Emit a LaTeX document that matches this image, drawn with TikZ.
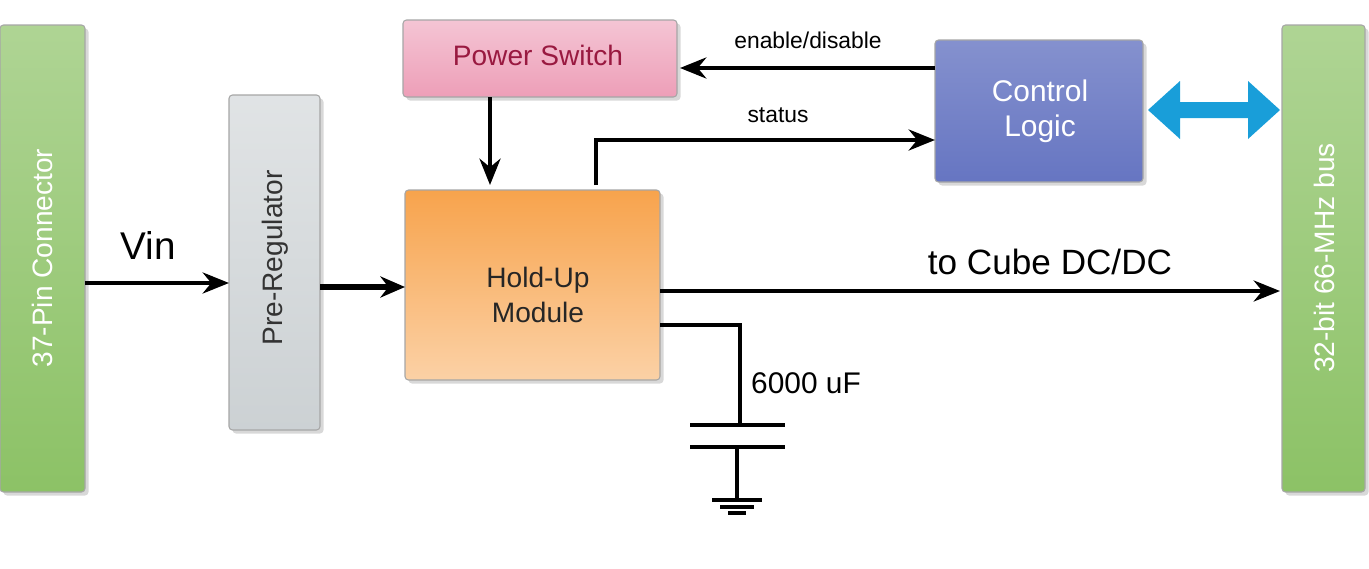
\documentclass[tikz,border=0pt]{standalone}
\usepackage{fontspec}
\setmainfont{Liberation Sans}
\usetikzlibrary{arrows.meta,shadows}
\definecolor{barfill}{rgb}{0.55,0.76,0.40}
\definecolor{pinkfill}{rgb}{0.93,0.62,0.72}
\definecolor{pinktext}{rgb}{0.60,0.10,0.25}
\definecolor{bluefill}{rgb}{0.40,0.46,0.76}
\definecolor{orangefill}{rgb}{0.97,0.64,0.30}
\definecolor{grayfill}{rgb}{0.80,0.82,0.83}
\definecolor{busarrow}{rgb}{0.10,0.62,0.85}
\tikzset{
  blk/.style={draw=black!35, line width=0.6pt, rounded corners=2pt, drop shadow={shadow xshift=2pt, shadow yshift=-2pt, fill=black!30}},
  conn/.style={line width=2.2pt, -{Stealth[length=15pt,width=12pt]}},
}
\begin{document}
\begin{tikzpicture}[x=0.02cm,y=-0.02cm]
\useasboundingbox (0,0) rectangle (1369,568);
% blocks
\draw[blk, top color=barfill!70, bottom color=barfill] (0,25) rectangle (85,492);
\node[white, rotate=90, font=\fontsize{16}{18}\selectfont] (pin) at (42,258) {37-Pin Connector};
\draw[blk, top color=grayfill!60, bottom color=grayfill] (229,95) rectangle (320,430);
\node[black!80, rotate=90, font=\fontsize{16}{18}\selectfont] (pre) at (275,258) {Pre-Regulator};
\draw[blk, top color=orangefill, bottom color=orangefill!50] (405,190) rectangle (660,380);
\node[black!85, align=center, font=\fontsize{16}{20}\selectfont] (hold) at (538,295) {Hold-Up\\Module};
\draw[blk, top color=pinkfill!60, bottom color=pinkfill] (403,20) rectangle (677,97);
\node[pinktext, font=\fontsize{16}{18}\selectfont] (psw) at (538,55) {Power Switch};
\draw[blk, top color=bluefill!80, bottom color=bluefill] (935,40) rectangle (1143,182);
\node[white, align=center, font=\fontsize{17}{20}\selectfont] (ctl) at (1040,111) {Control\\Logic};
\draw[blk, top color=barfill!70, bottom color=barfill] (1282,25) rectangle (1365,492);
\node[white, rotate=90, font=\fontsize{16}{18}\selectfont] (bus) at (1324,258) {32-bit 66-MHz bus};
% named ends
\coordinate (vin0) at (85,283);
\coordinate (vin1) at (229,283);
\coordinate (pr0) at (320,287);
\coordinate (pr1) at (405,287);
\coordinate (ps0) at (490,97);
\coordinate (ps1) at (490,185);
\coordinate (cl0) at (935,68);
\coordinate (cl1) at (680,68);
\coordinate (st0) at (596,185);
\coordinate (st1) at (935,140);
\coordinate (out0) at (660,291);
\coordinate (out1) at (1280,291);
\coordinate (cap0) at (660,325);
% connectors
\draw[conn] (vin0) -- (vin1);
\node[font=\fontsize{22}{26}\selectfont] (vinl) at (148,245) {Vin};
\draw[conn, line width=3.6pt, -{Stealth[length=14pt,width=12pt]}] (pr0) -- (pr1);
\draw[conn] (ps0) -- (ps1);
\draw[conn] (cl0) -- (cl1);
\node[font=\fontsize{13}{15}\selectfont] (enl) at (808,40) {enable/disable};
\draw[conn] (st0) |- (st1);
\node[font=\fontsize{13}{15}\selectfont] (stl) at (778,115) {status};
\draw[conn] (out0) -- (out1);
\node[font=\fontsize{20}{24}\selectfont] (outl) at (1050,262) {to Cube DC/DC};
% capacitor
\draw[line width=2.2pt] (cap0) -- (740,325) -- (740,425);
\draw[line width=2.6pt] (690,425) -- (785,425) (690,447) -- (785,447);
\draw[line width=2.2pt] (737,447) -- (737,500);
\draw[line width=1.8pt] (712,500) -- (762,500) (720,507) -- (754,507) (728,513) -- (746,513);
\node[font=\fontsize{17}{20}\selectfont, anchor=west] (capl) at (745,383) {6000 uF};
% bus arrow
\fill[busarrow] (1148,110) -- (1180,81) -- (1180,102) -- (1248,102) -- (1248,81)
  -- (1280,110) -- (1248,139) -- (1248,118) -- (1180,118) -- (1180,139) -- cycle;
\end{tikzpicture}
\end{document}
